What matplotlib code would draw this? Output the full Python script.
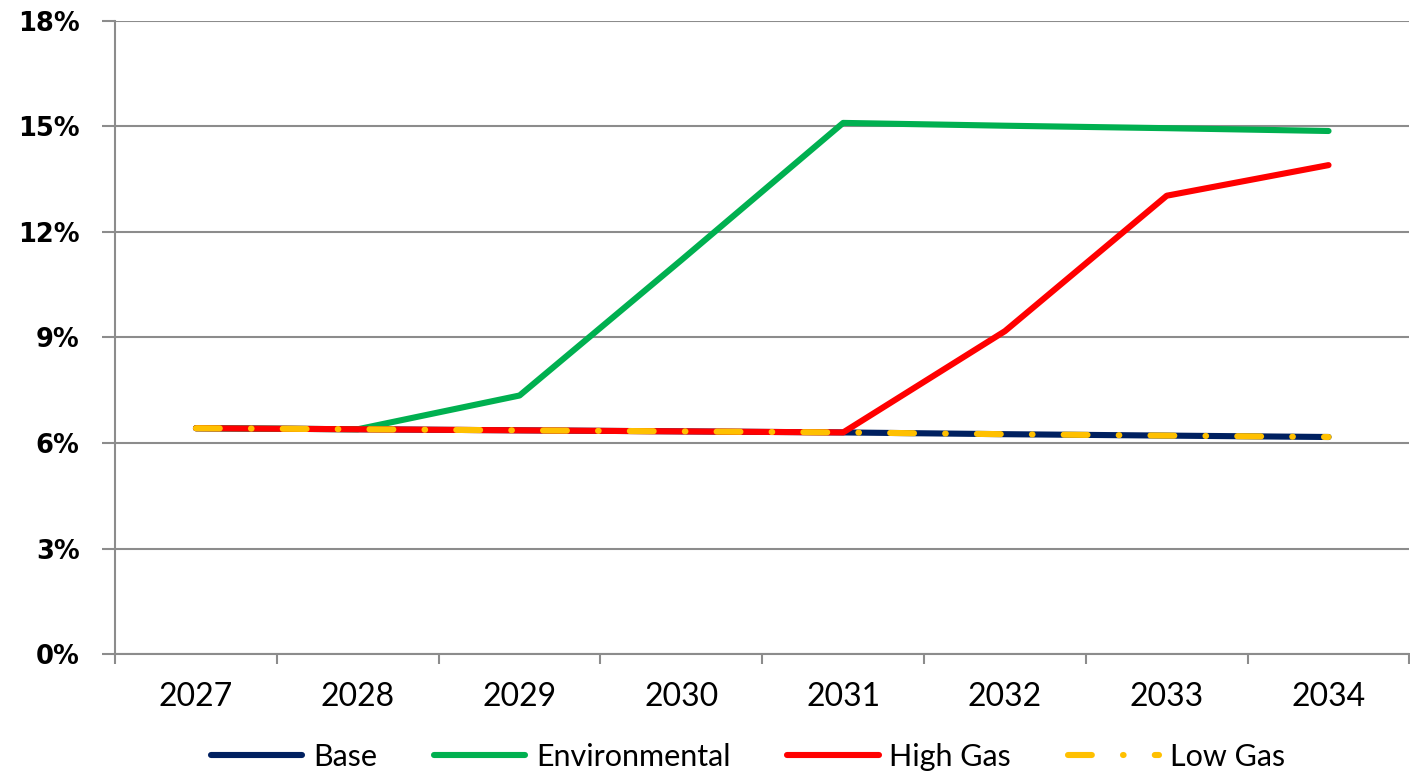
import numpy as np
import matplotlib.pyplot as plt

# data (percent)
years = ['2027', '2028', '2029', '2030', '2031', '2032', '2033', '2034']
base = [6.42, 6.39, 6.36, 6.33, 6.30, 6.25, 6.21, 6.17]
environmental = [6.42, 6.39, 7.35, 11.2, 15.1, 15.02, 14.95, 14.87]
high_gas = [6.42, 6.39, 6.36, 6.33, 6.30, 9.18, 13.03, 13.9]
low_gas = [6.42, 6.39, 6.36, 6.33, 6.30, 6.25, 6.21, 6.17]

yticks = [0, 3, 6, 9, 12, 15, 18]

fig = plt.figure(figsize=(14.1, 7.74), dpi=100)
ax = fig.add_axes([0.0816, 0.155, 0.918, 0.818])

x = np.arange(len(years))
lw = 4.4
ax.plot(x, base, color='#002060', lw=lw, solid_capstyle='round', label='Base', zorder=3)
ax.plot(x, environmental, color='#00b050', lw=lw, solid_capstyle='round', label='Environmental', zorder=3)
ax.plot(x, high_gas, color='#ff0000', lw=lw, solid_capstyle='round', label='High Gas', zorder=3)
ax.plot(x, low_gas, color='#ffc000', lw=lw, dash_capstyle='round',
        linestyle=(0, (3.9, 5.1, 0.1, 5.1)), label='Low Gas', zorder=4)

ax.set_xlim(-0.5, len(years) - 0.5)
ax.set_ylim(0, 18)

grid_col = '#8c8c8c'
ax.set_yticks(yticks)
ax.set_yticklabels([f'{v}%' for v in yticks], fontsize=18.5, fontweight='bold',
                   family='DejaVu Sans')
ax.yaxis.grid(True, color=grid_col, lw=1.5, zorder=0)
ax.tick_params(axis='y', length=9.5, width=1.5, color=grid_col, pad=16)

ax.set_xticks(x)
ax.set_xticklabels(years, fontsize=23, family='Lato')
ax.set_xticks(np.arange(len(years) + 1) - 0.5, minor=True)
ax.tick_params(axis='x', which='major', length=0, pad=20)
ax.tick_params(axis='x', which='minor', length=7, width=1.5, color=grid_col)

for s in ['top', 'right']:
    ax.spines[s].set_visible(False)
for s in ['left', 'bottom']:
    ax.spines[s].set_color(grid_col)
    ax.spines[s].set_linewidth(1.5)

ax.legend(loc='lower center', bbox_to_anchor=(0.489, -0.228), ncol=4, frameon=False,
          prop={'family': 'Lato', 'size': 22}, handlelength=3.0, handletextpad=0.35,
          columnspacing=1.85)

fig.savefig('out.png', dpi=100)
